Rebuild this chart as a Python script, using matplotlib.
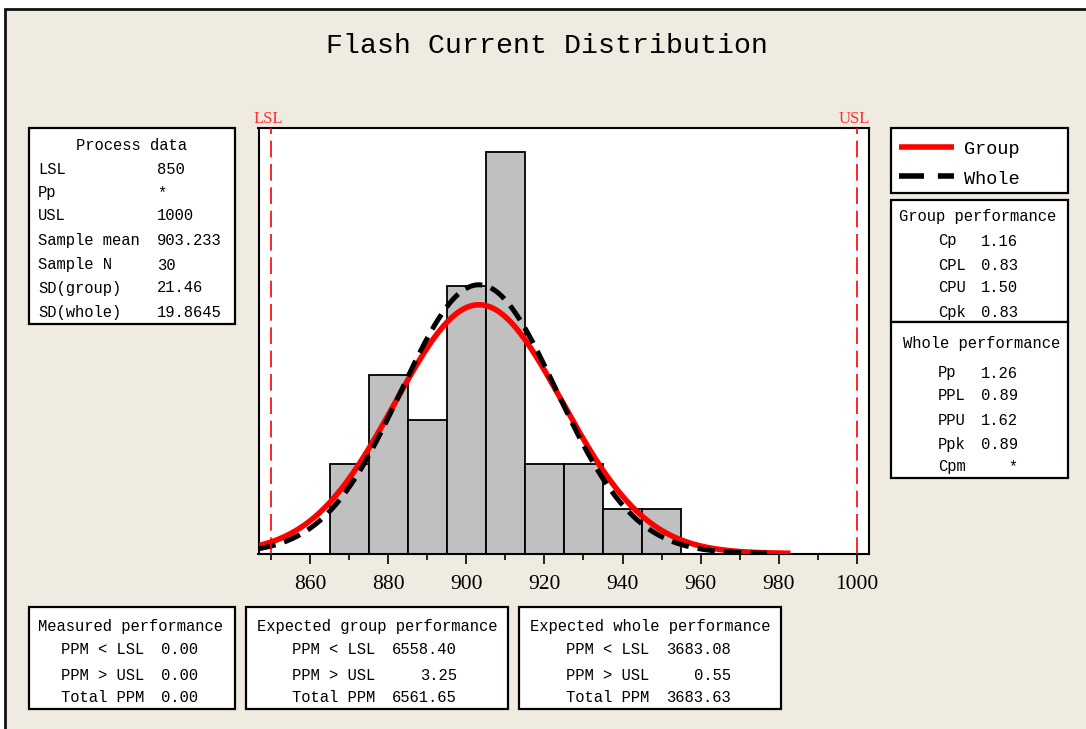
import numpy as np
import matplotlib
matplotlib.use("Agg")
import matplotlib.pyplot as plt
from matplotlib.patches import Rectangle
from matplotlib.lines import Line2D

# ---------------- data ----------------
bin_left = [865, 875, 885, 895, 905, 915, 925, 935, 945]
counts = [2, 4, 3, 6, 9, 2, 2, 1, 1]
bin_width = 10
LSL = 850
USL = 1000
sample_mean = 903.233
sample_n = 30
sd_group = 21.46
sd_whole = 19.8645
major_ticks = [860, 880, 900, 920, 940, 960, 980, 1000]
minor_ticks = [850, 870, 890, 910, 930, 950, 970, 990]

process_labels = ["LSL", "Pp", "USL", "Sample mean", "Sample N", "SD(group)", "SD(whole)"]
process_values = ["850", "*", "1000", "903.233", "30", "21.46", "19.8645"]
group_labels = ["Cp", "CPL", "CPU", "Cpk"]
group_values = ["1.16", "0.83", "1.50", "0.83"]
whole_labels = ["Pp", "PPL", "PPU", "Ppk", "Cpm"]
whole_values = ["1.26", "0.89", "1.62", "0.89", "   *"]
ppm_labels = ["PPM < LSL", "PPM > USL", "Total PPM"]
measured_values = ["0.00", "0.00", "0.00"]
exp_group_values = ["6558.40", "3.25", "6561.65"]
exp_whole_values = ["3683.08", "0.55", "3683.63"]

# ---------------- figure ----------------
W, H = 1086, 729
fig = plt.figure(figsize=(W / 100, H / 100), dpi=100, facecolor="white")
BG = "#f0ebe0"
MONO = "Liberation Mono"
SERIF = "Liberation Serif"


def fx(x):
    return x / W


def fy(y):
    return 1 - y / H


# beige panel with border
fig.add_artist(Rectangle((fx(5), fy(740)), fx(1100), 740 / H - 9 / H,
                         transform=fig.transFigure, facecolor=BG,
                         edgecolor="#111111", linewidth=2.0, zorder=0))


def box(x0, y0, x1, y1):
    fig.add_artist(Rectangle((fx(x0), fy(y1)), fx(x1) - fx(x0), fy(y0) - fy(y1),
                             transform=fig.transFigure, facecolor="white",
                             edgecolor="black", linewidth=1.6, zorder=1))


def txt(x, y, s, ha="left", size=11.2, family=MONO, color="black"):
    fig.text(fx(x), fy(y), s, ha=ha, va="center", fontsize=size,
             family=family, color=color, zorder=3)


# title
txt(547, 46, "Flash Current Distribution", ha="center", size=20.3)

# ---------------- main axes ----------------
ax = fig.add_axes([fx(258.5), fy(553.5), fx(869) - fx(258.5), fy(128) - fy(553.5)])
ax.set_facecolor("white")
ax.bar(bin_left, counts, width=bin_width, align="edge", color="#c0c0c0",
       edgecolor="black", linewidth=1.3, zorder=2)

xlo, xhi = 846.8, 1003.1
xg = np.linspace(xlo, 983, 400)
xw = np.linspace(xlo, 977, 400)
scale = sample_n * bin_width
yg = scale * np.exp(-0.5 * ((xg - sample_mean) / sd_group) ** 2) / (sd_group * np.sqrt(2 * np.pi))
yw = scale * np.exp(-0.5 * ((xw - sample_mean) / sd_whole) ** 2) / (sd_whole * np.sqrt(2 * np.pi))
ax.plot(xg, yg, color="red", linewidth=4.0, zorder=3, solid_capstyle="butt")
ax.plot(xw, yw, color="black", linewidth=3.6, linestyle=(0, (3.5, 1.8)),
        zorder=4, dash_capstyle="butt")

for v in (LSL, USL):
    ax.axvline(v, color="red", linewidth=1.2, linestyle=(0, (10, 4)), zorder=5)

ax.set_xlim(xlo, xhi)
ax.set_ylim(0, 9.54)
ax.set_yticks([])
ax.set_xticks(major_ticks)
ax.set_xticks(minor_ticks, minor=True)
ax.set_xticklabels([str(t) for t in major_ticks], family=SERIF, fontsize=15.5)
ax.tick_params(axis="x", which="major", length=7.2, width=1.2, pad=8)
ax.tick_params(axis="x", which="minor", length=4.3, width=1.2)
for sp in ax.spines.values():
    sp.set_linewidth(1.5)

txt(268, 119, "LSL", ha="center", size=12, family=SERIF, color="#ff3030")
txt(854, 119, "USL", ha="center", size=12, family=SERIF, color="#ff3030")

# ---------------- process data box ----------------
box(29, 128, 235, 324)
txt(131, 145, "Process data", ha="center")
rows_y = [169, 193, 216, 240, 265, 288, 312]
for lab, val, y in zip(process_labels, process_values, rows_y):
    txt(38, y, lab)
    txt(157, y, val)

# ---------------- legend box ----------------
box(891, 128, 1068, 193)
fig.add_artist(Line2D([fx(899), fx(954)], [fy(147), fy(147)], transform=fig.transFigure,
                      color="red", linewidth=4.0, zorder=3, solid_capstyle="butt"))
fig.add_artist(Line2D([fx(899), fx(954)], [fy(176), fy(176)], transform=fig.transFigure,
                      color="black", linewidth=4.0, linestyle=(0, (4.5, 2.5)),
                      zorder=3, dash_capstyle="butt"))
txt(964, 149, "Group", size=13.4)
txt(964, 179, "Whole", size=13.4)

# ---------------- group / whole performance ----------------
box(891, 200, 1068, 322)
box(891, 322, 1068, 478)
txt(978, 216, "Group performance", ha="center")
for lab, val, y in zip(group_labels, group_values, [241, 265, 288, 312]):
    txt(938, y, lab)
    txt(981, y, val)
txt(982, 343, "Whole performance", ha="center")
for lab, val, y in zip(whole_labels, whole_values, [373, 396, 420, 445, 467]):
    txt(938, y, lab)
    txt(981, y, val)

# ---------------- bottom boxes ----------------
bottom_y = [650, 675, 697]
box(29, 607, 235, 709)
txt(131, 626, "Measured performance", ha="center")
for lab, val, y in zip(ppm_labels, measured_values, bottom_y):
    txt(61, y, lab)
    txt(161, y, val)

box(246, 607, 508, 709)
txt(377, 626, "Expected group performance", ha="center")
for lab, val, y in zip(ppm_labels, exp_group_values, bottom_y):
    txt(292, y, lab)
    txt(457, y, val, ha="right")

box(519, 607, 781, 709)
txt(650, 626, "Expected whole performance", ha="center")
for lab, val, y in zip(ppm_labels, exp_whole_values, bottom_y):
    txt(566, y, lab)
    txt(731, y, val, ha="right")

fig.savefig("out.png", dpi=100, facecolor="white")
